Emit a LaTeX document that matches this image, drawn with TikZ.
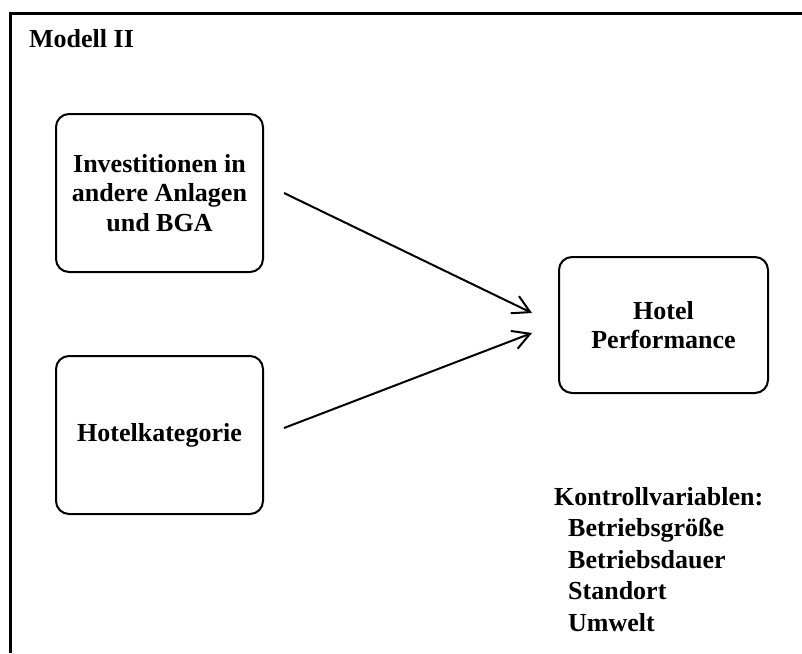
\documentclass[tikz,border=0pt]{standalone}
\usepackage{fontspec}
\setmainfont{Liberation Serif}
\usetikzlibrary{arrows.meta,calc}

\tikzset{
  varbox/.style={draw, line width=2pt, rounded corners=13pt,
    minimum width=207pt, minimum height=158pt, align=center,
    inner sep=0pt, font=\bigbold},
  pathline/.style={line width=2pt,
    -{Straight Barb[length=17pt,width=19pt,line width=2pt]}},
  label/.style={anchor=base west, inner sep=0pt, font=\bigbold},
}
\newcommand{\bigbold}{\fontsize{26}{29.5}\selectfont\bfseries}

\begin{document}
\begin{tikzpicture}[x=1pt,y=-1pt]
  \useasboundingbox (0,0) rectangle (802,653);

  % outer frame
  \draw[line width=3.5pt] (10.5,653) -- (10.5,13.5) -- (802,13.5);

  \node[label] (title) at (29,47) {Modell II};

  % variables
  \node[varbox] (inv) at (159.5,193) {Investitionen in\\andere Anlagen\\und BGA};
  \node[varbox] (kat) at (159.5,435) {Hotelkategorie};
  \node[varbox, minimum width=209pt, minimum height=136pt] (perf) at (663.5,325) {Hotel\\Performance};

  % effects
  \draw[pathline] ($(inv.east)+(20,0)$) -- ($(perf.west)+(-26,-12)$);
  \draw[pathline] ($(kat.east)+(20,-7)$) -- ($(perf.west)+(-26,8)$);

  % control variables
  \node[label] (k0) at (554,505) {Kontrollvariablen:};
  \node[label] (k1) at (568,536.5) {Betriebsgröße};
  \node[label] (k2) at (568,568) {Betriebsdauer};
  \node[label] (k3) at (568,599.5) {Standort};
  \node[label] (k4) at (568,631) {Umwelt};
\end{tikzpicture}
\end{document}
